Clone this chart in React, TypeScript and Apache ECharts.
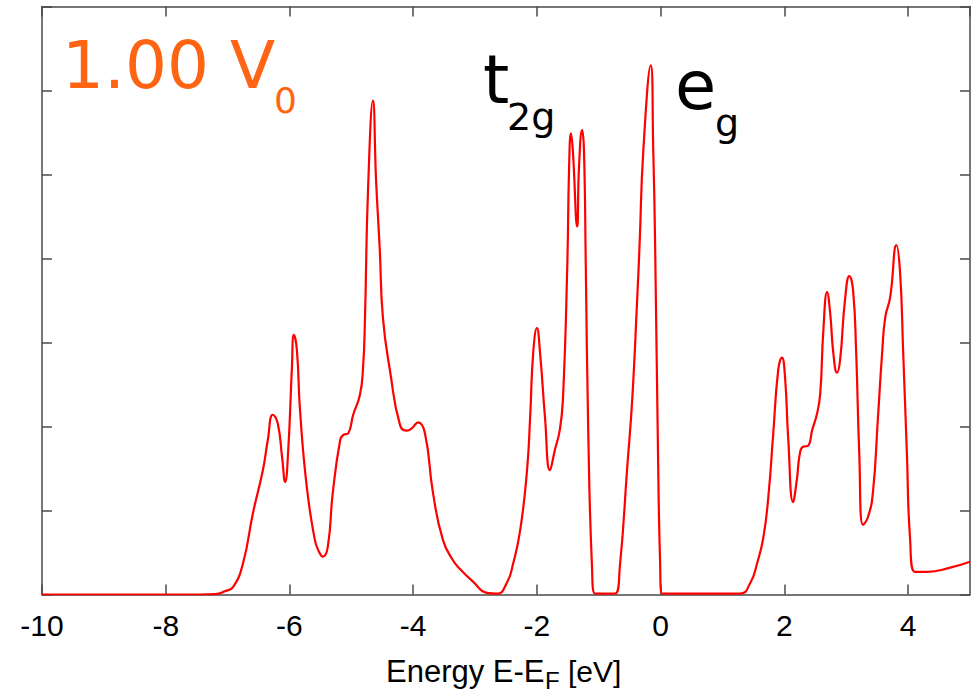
import React, { useEffect, useRef } from "react";
import * as echarts from "echarts";

const energy = [
  -10, -7.45, -7.2, -7.04, -6.91, -6.75, -6.59, -6.43, -6.35, -6.27, -6.19, -6.12, -6.07, -6.02,
  -5.96, -5.93, -5.88, -5.83, -5.72, -5.59, -5.53, -5.46, -5.38, -5.3, -5.18, -5.13, -5.05, -4.97, -4.86,
  -4.81, -4.78, -4.73, -4.65, -4.6, -4.54, -4.49, -4.37, -4.21, -4.1, -4.02, -3.92, -3.81, -3.68,
  -3.52, -3.36, -3.24, -3.03, -2.81, -2.64, -2.48, -2.39, -2.27, -2.16, -2.11, -2.06, -2.0, -1.95,
  -1.87, -1.79, -1.71, -1.63, -1.58, -1.51, -1.48, -1.45, -1.42, -1.35, -1.32, -1.27, -1.24, -1.21,
  -1.17, -1.11, -1.06, -0.74, -0.66, -0.54, -0.46, -0.38, -0.34, -0.28, -0.16, -0.12, -0.09, -0.04,
  -0.01, 0.02, 1.28, 1.45, 1.56, 1.66, 1.74, 1.82, 1.9, 1.96, 2.01, 2.06, 2.14, 2.2, 2.25, 2.3,
  2.38, 2.45, 2.53, 2.58, 2.63, 2.69, 2.74, 2.79, 2.85, 2.9, 2.98, 3.05, 3.11, 3.16, 3.21, 3.27,
  3.35, 3.43, 3.51, 3.58, 3.63, 3.71, 3.81, 3.87, 3.92, 3.98, 4.03, 4.11, 4.31, 4.68, 5.0,
];

const dos = [
  0, 0, 0.005, 0.04, 0.09, 0.375, 0.97, 1.48, 1.84, 2.14, 2.04, 1.64, 1.34, 1.72,
  2.71, 3.09, 2.91, 2.2, 1.28, 0.65, 0.52, 0.45, 0.57, 1.21, 1.84, 1.9, 1.92, 2.14, 2.38,
  2.71, 3.27, 4.82, 5.88, 4.93, 4.1, 3.3, 2.64, 2.01, 1.95, 1.98, 2.05, 1.92, 1.21,
  0.65, 0.41, 0.3, 0.15, 0.02, 0.01, 0.15, 0.35, 0.77, 1.48, 2.11, 2.88, 3.17, 2.88,
  2.11, 1.48, 1.72, 1.96, 2.32, 3.9, 5.09, 5.49, 5.29, 4.38, 5.09, 5.53, 5.29, 3.9,
  1.92, 0.33, 0.01, 0.01, 0.33, 1.52, 2.32, 3.51, 4.18, 5.29, 6.3, 5.29, 4.18, 1.52,
  0.41, 0.01, 0.01, 0.14, 0.375, 0.68, 1.16, 1.92, 2.67, 2.82, 2.59, 1.88, 1.1, 1.36, 1.68, 1.76,
  1.77, 1.96, 2.16, 2.4, 3.15, 3.6, 3.35, 2.88, 2.64, 2.79, 3.51, 3.79, 3.62, 2.88, 1.68, 0.83,
  0.92, 1.21, 2.08, 2.88, 3.3, 3.54, 4.16, 3.83, 2.88, 1.68, 0.68, 0.27, 0.27, 0.32, 0.39,
];

const xMin = -10;
const xMax = 5;
const xStep = 2;
const yMin = 0;
const yMax = 7;
const yStep = 1;

const frameColor = "#4a4a4a";

export default function App() {
  const ref = useRef<HTMLDivElement>(null);

  useEffect(() => {
    const chart = echarts.init(ref.current!, null, { renderer: "svg" });
    const data = energy.map((e, i) => [e, dos[i]]);
    const axisLine = { show: true, onZero: false, lineStyle: { color: frameColor, width: 1.5 } };
    const axisTick = { show: true, inside: true, length: 10, lineStyle: { color: frameColor, width: 1.5 } };
    const txt = (text: string, x: number, y: number, size: number, color: string, family: string) => ({
      type: "text",
      x,
      y,
      style: {
        text,
        fill: color,
        fontSize: size,
        fontFamily: family,
        align: "left",
        verticalAlign: "middle",
      },
    });
    chart.setOption({
      animation: false,
      backgroundColor: "#ffffff",
      grid: { left: 42, right: 6, top: 6.5, bottom: 98.5, containLabel: false },
      xAxis: [
        {
          type: "value",
          min: xMin,
          max: xMax,
          interval: xStep,
          position: "bottom",
          axisLine,
          axisTick,
          splitLine: { show: false },
          axisLabel: {
            fontSize: 30,
            fontFamily: "Liberation Sans",
            color: "#000",
            margin: 16,
            showMaxLabel: false,
          },
        },
        {
          type: "value",
          min: xMin,
          max: xMax,
          interval: xStep,
          position: "top",
          axisLine,
          axisTick,
          splitLine: { show: false },
          axisLabel: { show: false },
        },
      ],
      yAxis: [
        {
          type: "value",
          min: yMin,
          max: yMax,
          interval: yStep,
          position: "left",
          axisLine,
          axisTick,
          splitLine: { show: false },
          axisLabel: { show: false },
        },
        {
          type: "value",
          min: yMin,
          max: yMax,
          interval: yStep,
          position: "right",
          axisLine,
          axisTick,
          splitLine: { show: false },
          axisLabel: { show: false },
        },
      ],
      series: [
        {
          type: "line",
          xAxisIndex: 0,
          yAxisIndex: 0,
          data,
          showSymbol: false,
          smooth: 0.5,
          lineStyle: { color: "#ff0000", width: 2.2 },
          itemStyle: { color: "#ff0000" },
        },
      ],
      graphic: [
        txt("1.00 V", 62, 65, 66, "#ff6414", "DejaVu Sans"),
        txt("0", 274, 100.5, 36, "#ff6414", "DejaVu Sans"),
        txt("t", 483, 80, 67, "#000", "DejaVu Sans"),
        txt("2g", 507, 117, 38, "#000", "DejaVu Sans"),
        txt("e", 675, 86, 67, "#000", "DejaVu Sans"),
        txt("g", 715, 123, 38, "#000", "DejaVu Sans"),
        txt("Energy E-E", 386, 671.3, 31, "#000", "Liberation Sans"),
        txt("F", 545, 680, 24, "#000", "Liberation Sans"),
        txt("[eV]", 568, 671.6, 30, "#000", "Liberation Sans"),
      ],
    });
    return () => chart.dispose();
  }, []);

  return (
    <div
      ref={ref}
      style={{ position: "absolute", left: 0, top: 0, width: 976, height: 693 }}
    />
  );
}
